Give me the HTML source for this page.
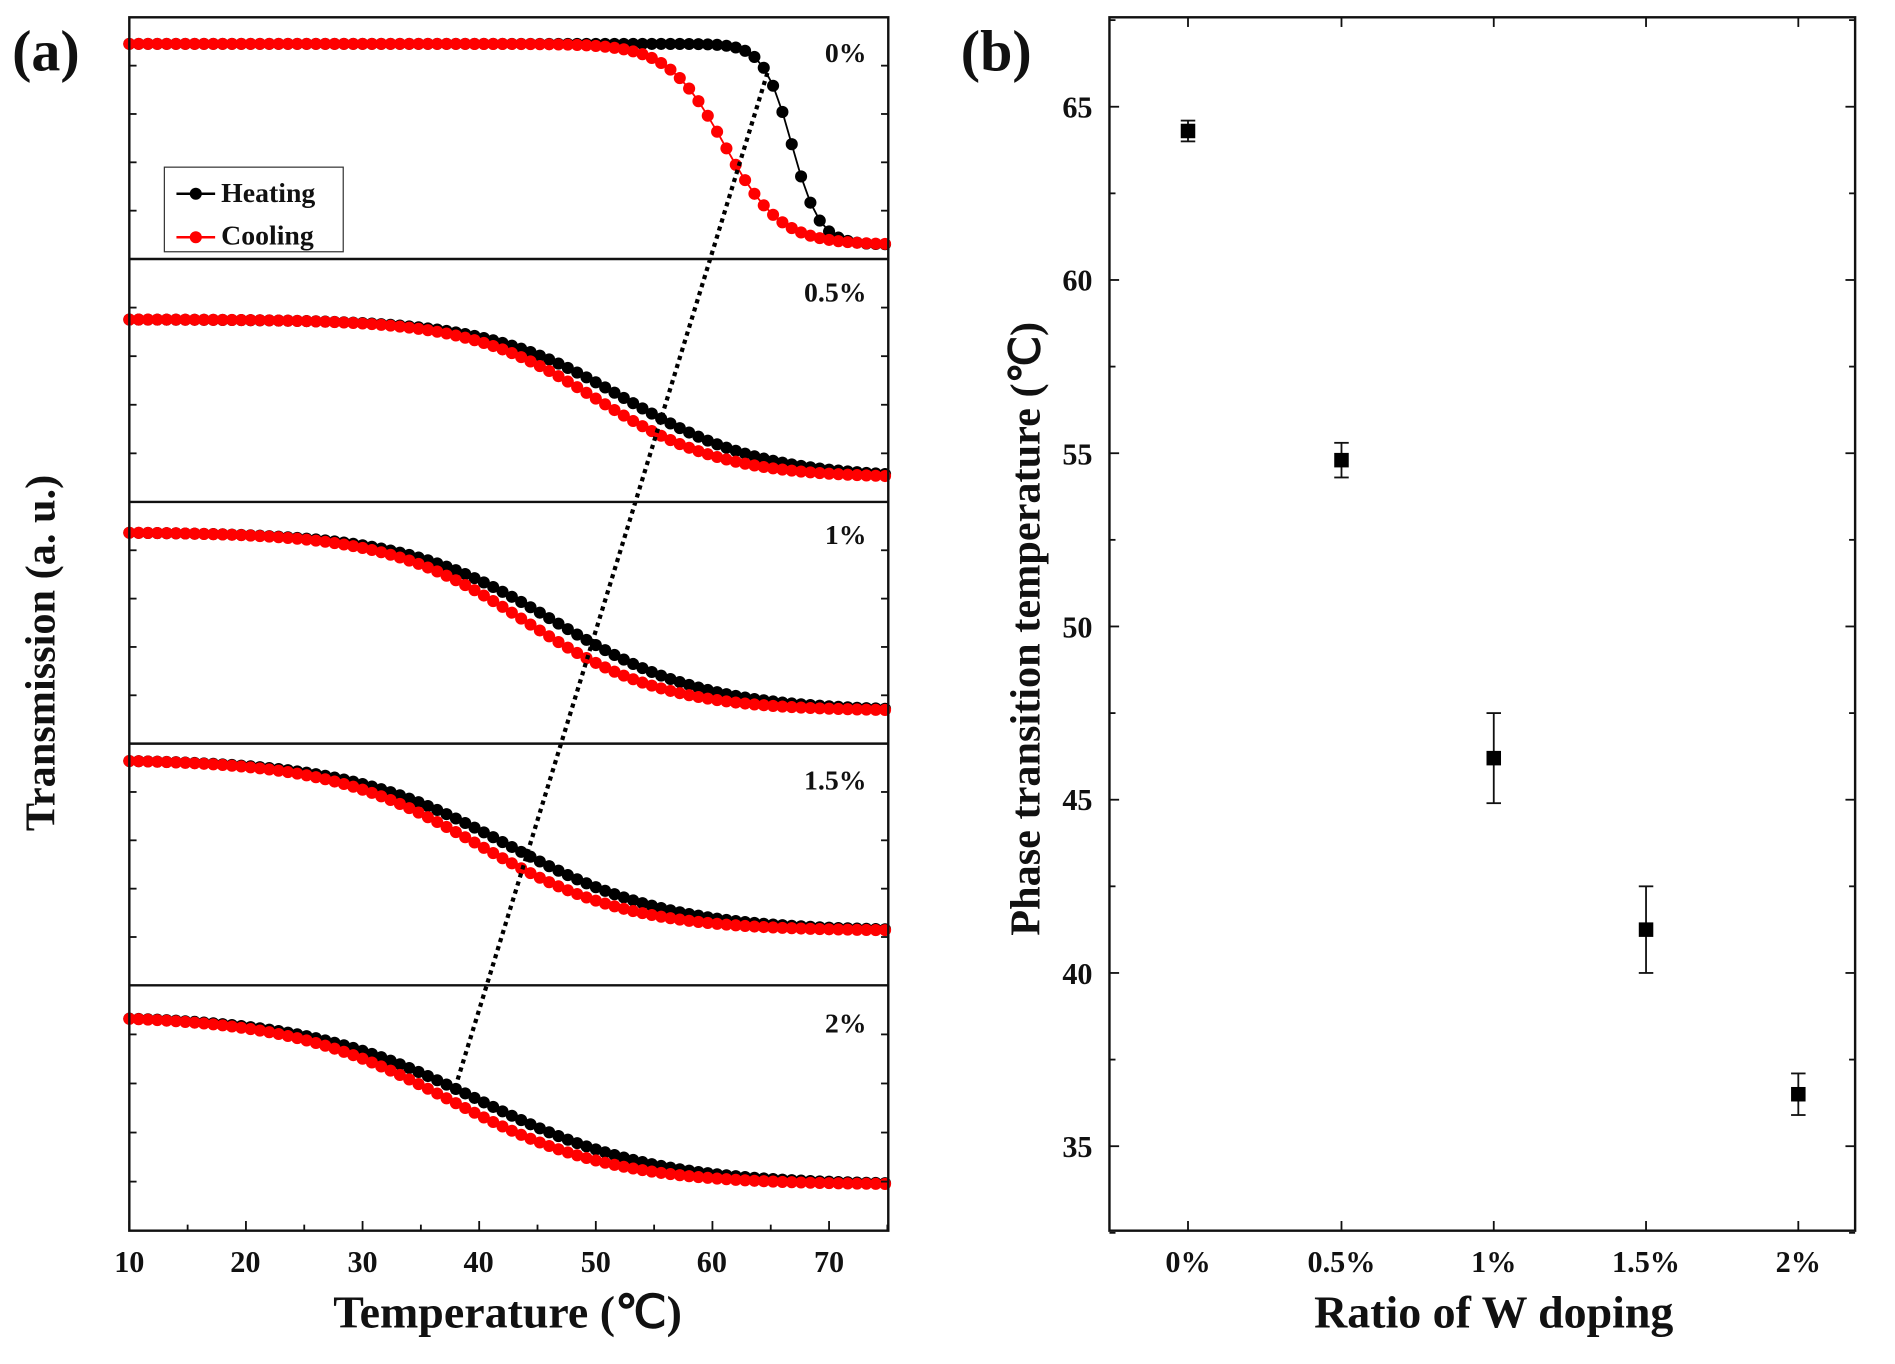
<!DOCTYPE html><html><head><meta charset="utf-8"><style>html,body{margin:0;padding:0;background:#fff}svg{display:block}text{font-family:"Liberation Serif",serif;font-weight:bold;fill:#111}</style></head><body>
<svg id="s" width="1895" height="1364" viewBox="0 0 1568 1128" xmlns="http://www.w3.org/2000/svg">
<g id="a"></g>
<line x1="635" y1="60" x2="375" y2="905" stroke="#000" stroke-width="3.5" stroke-dasharray="3.5 3.5"/>
<g fill="none" stroke="#111" stroke-width="2">
<rect x="107" y="14" width="628" height="1004"/>
<line x1="107" y1="214" x2="735" y2="214"/><line x1="107" y1="415" x2="735" y2="415"/>
<line x1="107" y1="615" x2="735" y2="615"/><line x1="107" y1="815" x2="735" y2="815"/>
<rect x="918" y="14" width="617" height="1004"/>
</g>
<g id="t" stroke="#111" stroke-width="1.5"></g>
<rect x="136" y="138" width="148" height="70" fill="#fff" stroke="#333" stroke-width="1"/>
<line x1="146" y1="160" x2="178" y2="160" stroke="#000" stroke-width="2"/><circle cx="162" cy="160" r="5" fill="#000"/>
<line x1="146" y1="196" x2="178" y2="196" stroke="#f00" stroke-width="2"/><circle cx="162" cy="196" r="5" fill="#f00"/>
<text x="183" y="167" font-size="23">Heating</text><text x="183" y="202" font-size="23">Cooling</text>
<g font-size="23" text-anchor="end"><text x="717" y="51">0%</text><text x="717" y="249">0.5%</text><text x="717" y="450">1%</text><text x="717" y="653">1.5%</text><text x="717" y="854">2%</text></g>
<g font-size="25" text-anchor="middle" font-family="Liberation Sans"><text x="107" y="1052">10</text><text x="203" y="1052">20</text><text x="300" y="1052">30</text><text x="396" y="1052">40</text><text x="493" y="1052">50</text><text x="589" y="1052">60</text><text x="686" y="1052">70</text>
<text x="983" y="1052">0%</text><text x="1110" y="1052">0.5%</text><text x="1236" y="1052">1%</text><text x="1362" y="1052">1.5%</text><text x="1488" y="1052">2%</text></g>
<g font-size="25" text-anchor="end" font-family="Liberation Sans"><text x="904" y="97">65</text><text x="904" y="240">60</text><text x="904" y="384">55</text><text x="904" y="527">50</text><text x="904" y="670">45</text><text x="904" y="814">40</text><text x="904" y="957">35</text></g>
<text x="420" y="1098" font-size="38" text-anchor="middle">Temperature (℃)</text>
<text x="1236" y="1098" font-size="38" text-anchor="middle">Ratio of W doping</text>
<text transform="translate(45,540) rotate(-90)" font-size="35" text-anchor="middle">Transmission (a. u.)</text>
<text transform="translate(860,520) rotate(-90)" font-size="35" text-anchor="middle">Phase transition temperature (℃)</text>
<text x="10" y="58" font-size="48">(a)</text><text x="795" y="58" font-size="48">(b)</text>
<g id="b"></g>
</svg>
<script>
var NS="http://www.w3.org/2000/svg";
function el(p,n,a){var e=document.createElementNS(NS,n);for(var k in a)e.setAttribute(k,a[k]);p.appendChild(e);return e;}
var A=document.getElementById('a'),B=document.getElementById('b'),T=document.getElementById('t');
function X(t){return 107+(t-10)*9.65;}
var P=[[36,202,[66.8,1.2],[61,2.4]],[264,395,[52.5,6],[50,5.5]],[440,588,[46.5,6.5],[44,6]],[628,770,[42.5,7],[40,6.5]],[840,980,[40,7.5],[37.5,7]]];
P.forEach(function(p){
 [[p[2],'#000'],[p[3],'#f00']].forEach(function(c){
  var pts=[];for(var t=10;t<=75.01;t+=0.8){var y=p[1]-(p[1]-p[0])/(1+Math.exp((t-c[0][0])/c[0][1]));pts.push(X(t).toFixed(1)+','+y.toFixed(1));el(A,'circle',{cx:X(t),cy:y,r:5,fill:c[1]});}
  el(A,'polyline',{points:pts.join(' '),fill:'none',stroke:c[1],'stroke-width':1.5});
 });
});
for(var t=10;t<=75;t+=5){var x=X(t),L=(t%10==0)?8:5;el(T,'line',{x1:x,y1:1018,x2:x,y2:1018-L});}
[14,214,415,615,815].forEach(function(y0,i){var y1=[214,415,615,815,1018][i];for(var k=1;k<5;k++){var y=y0+(y1-y0)*k/5;el(T,'line',{x1:107,y1:y,x2:113,y2:y});el(T,'line',{x1:735,y1:y,x2:729,y2:y});}});
function Y(v){return 88+(65-v)*28.67;}
for(var v=32.5;v<=67.5;v+=2.5){var L=(v%5==0)?8:5;el(T,'line',{x1:918,y1:Y(v),x2:918+L,y2:Y(v)});el(T,'line',{x1:1535,y1:Y(v),x2:1535-L,y2:Y(v)});}
var cx=[983,1110,1236,1362,1488],d=[[64.3,0.3],[54.8,0.5],[46.2,1.3],[41.25,1.25],[36.5,0.6]];
cx.forEach(function(x,i){el(T,'line',{x1:x,y1:1018,x2:x,y2:1010});el(T,'line',{x1:x,y1:14,x2:x,y2:22});
 var v=d[i][0],e=d[i][1];el(B,'line',{x1:x,y1:Y(v+e),x2:x,y2:Y(v-e),stroke:'#111','stroke-width':1.5});
 el(B,'line',{x1:x-6,y1:Y(v+e),x2:x+6,y2:Y(v+e),stroke:'#111','stroke-width':1.5});el(B,'line',{x1:x-6,y1:Y(v-e),x2:x+6,y2:Y(v-e),stroke:'#111','stroke-width':1.5});
 el(B,'rect',{x:x-6,y:Y(v)-6,width:12,height:12,fill:'#000'});});
</script>
</body></html>
